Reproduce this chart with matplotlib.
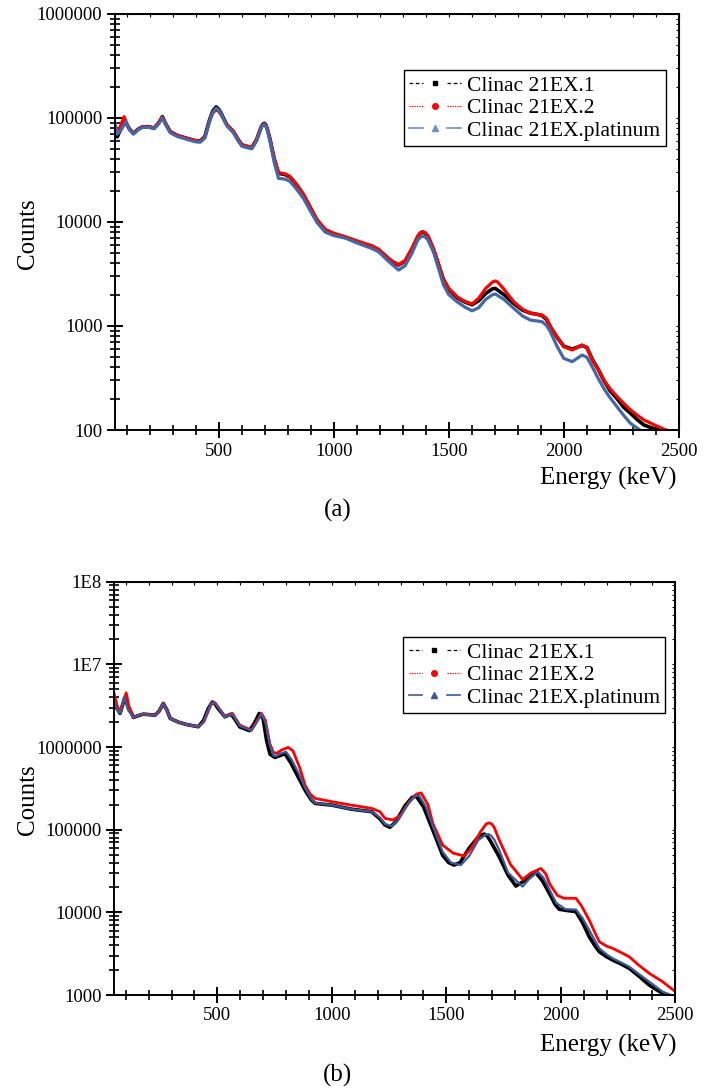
import matplotlib
matplotlib.use("Agg")
import matplotlib.pyplot as plt
from matplotlib.lines import Line2D
from matplotlib.legend_handler import HandlerTuple
from matplotlib.ticker import MultipleLocator, NullFormatter

plt.rcParams['font.family'] = ['Liberation Serif', 'DejaVu Serif']

# ---- panel (a) ----
energy_a1 = [50, 60, 75, 95, 110, 130, 150, 170, 200, 220, 240, 256, 270, 290, 320, 360,
             400, 420, 440, 460, 475, 489, 500, 510, 536, 564, 585, 601, 644, 665, 685,
             692, 699, 705, 712, 724, 742, 760, 790, 811, 840, 869, 900, 927, 963, 1000,
             1051, 1100, 1167, 1196, 1230, 1254, 1282, 1310, 1340, 1365, 1376, 1386,
             1398, 1410, 1434, 1455, 1477, 1500, 1536, 1570, 1601, 1630, 1660, 1690,
             1702, 1740, 1782, 1820, 1854, 1880, 1905, 1925, 1941, 1970, 1999, 2036,
             2079, 2100, 2123, 2150, 2173, 2200, 2231, 2260, 2289, 2320, 2347, 2380,
             2420, 2450]
counts_a1 = [75000, 66000, 78000, 92000, 80000, 71000, 78000, 82500, 82000, 80000, 90000,
             103000, 88000, 74000, 68000, 64000, 60500, 60000, 66000, 95000, 117000,
             128000, 122000, 112000, 86000, 74000, 62000, 55000, 51800, 62000, 82000,
             87000, 89000, 86000, 78000, 61400, 40000, 29400, 28500, 27000, 22500,
             18200, 13500, 10450, 8380, 7700, 7100, 6500, 5790, 5380, 4600, 4150, 3860,
             4200, 5500, 7200, 7800, 8000, 7800, 7200, 5400, 3900, 2800, 2250, 1870,
             1700, 1600, 1750, 2050, 2280, 2300, 2000, 1650, 1420, 1330, 1300, 1260,
             1150, 985, 780, 640, 600, 650, 620, 480, 380, 300, 240, 200, 165, 145, 125,
             112, 105, 100, 95]

energy_a2 = [50, 60, 75, 89, 100, 115, 130, 150, 170, 200, 220, 240, 256, 270, 290, 320,
             360, 400, 420, 440, 460, 475, 489, 500, 510, 536, 564, 585, 601, 644, 665,
             685, 692, 699, 705, 712, 724, 742, 760, 790, 811, 840, 869, 900, 927, 963,
             1000, 1051, 1100, 1167, 1196, 1230, 1254, 1282, 1310, 1340, 1365, 1376,
             1386, 1398, 1410, 1434, 1455, 1477, 1500, 1536, 1570, 1601, 1630, 1660,
             1690, 1702, 1712, 1740, 1782, 1820, 1854, 1880, 1905, 1925, 1941, 1970,
             1999, 2036, 2079, 2100, 2123, 2150, 2173, 2200, 2231, 2260, 2289, 2320,
             2347, 2400, 2434, 2470]
counts_a2 = [80000, 72000, 85000, 103000, 90000, 76000, 71000, 78000, 82500, 82000,
             80000, 90000, 102000, 88000, 74000, 68000, 64000, 60500, 60000, 65000,
             92000, 112000, 120000, 116000, 108000, 86000, 75000, 62000, 55500, 52000,
             62000, 82000, 86000, 88000, 85000, 78000, 62000, 41000, 29800, 29000,
             27300, 22800, 18400, 13700, 10600, 8500, 7800, 7220, 6600, 5900, 5450,
             4650, 4200, 3900, 4250, 5600, 7300, 7900, 8100, 7900, 7300, 5500, 4000,
             2770, 2300, 1910, 1720, 1630, 1850, 2300, 2650, 2710, 2650, 2250, 1710,
             1450, 1325, 1300, 1275, 1180, 985, 790, 632, 588, 656, 620, 471, 380, 303,
             250, 209, 180, 156, 138, 125, 110, 102, 96]

energy_a3 = [50, 60, 75, 96, 110, 130, 150, 170, 200, 220, 240, 256, 270, 290, 320, 360,
             400, 420, 440, 460, 475, 489, 500, 510, 536, 564, 585, 601, 644, 665, 685,
             692, 699, 705, 712, 724, 742, 760, 790, 811, 840, 869, 900, 927, 963, 1000,
             1051, 1100, 1167, 1196, 1230, 1254, 1282, 1310, 1340, 1365, 1376, 1386,
             1398, 1410, 1434, 1455, 1477, 1500, 1536, 1570, 1601, 1630, 1660, 1690,
             1702, 1740, 1782, 1820, 1854, 1880, 1905, 1925, 1941, 1970, 1999, 2036,
             2079, 2100, 2123, 2150, 2173, 2200, 2231, 2260, 2289, 2330, 2360]
counts_a3 = [88000, 70000, 76000, 92000, 79000, 70000, 77000, 81500, 81000, 79000, 88000,
             100000, 86000, 72000, 66500, 62500, 59000, 58500, 64000, 92000, 114000,
             125000, 120000, 110000, 84000, 72000, 60000, 53500, 50500, 60000, 80000,
             85000, 87000, 84000, 76000, 59000, 37000, 26300, 25800, 24500, 20500,
             16800, 12600, 9900, 8000, 7400, 7000, 6300, 5550, 5150, 4350, 3900, 3450,
             3800, 5000, 6700, 7100, 7330, 7150, 6700, 5100, 3600, 2480, 2000, 1710,
             1520, 1400, 1500, 1800, 2000, 2030, 1800, 1480, 1250, 1140, 1120, 1100,
             1010, 880, 640, 489, 454, 526, 500, 406, 310, 252, 205, 167, 138, 116, 100,
             92]

# ---- panel (b) ----
energy_b1 = [50, 60, 75, 95, 115, 134, 155, 177, 228, 245, 264, 280, 294, 330, 366, 417,
             440, 460, 478, 490, 500, 533, 560, 575, 598, 640, 660, 683, 700, 715, 730,
             751, 775, 795, 820, 850, 883, 910, 927, 1000, 1086, 1174, 1210, 1232, 1254,
             1280, 1320, 1350, 1368, 1400, 1441, 1484, 1510, 1534, 1560, 1600, 1640,
             1655, 1666, 1678, 1690, 1731, 1770, 1804, 1840, 1870, 1891, 1920, 1950,
             1975, 1993, 2030, 2066, 2095, 2124, 2150, 2168, 2200, 2226, 2260, 2299,
             2340, 2386, 2420, 2444, 2470, 2500]
counts_b1 = [3.7e6, 3.0e6, 2.55e6, 3.9e6, 2.9e6, 2.28e6, 2.4e6, 2.5e6, 2.43e6, 2.7e6,
             3.37e6, 2.8e6, 2.22e6, 2.0e6, 1.87e6, 1.76e6, 2.1e6, 2.9e6, 3.5e6, 3.35e6,
             3.0e6, 2.32e6, 2.5e6, 2.2e6, 1.75e6, 1.58e6, 1.9e6, 2.55e6, 2.2e6, 1.2e6,
             8.2e5, 7.48e5, 7.9e5, 8.3e5, 6.5e5, 4.5e5, 3.01e5, 2.3e5, 2.08e5, 1.98e5,
             1.77e5, 1.65e5, 1.35e5, 1.14e5, 1.07e5, 1.25e5, 1.95e5, 2.45e5, 2.55e5,
             1.9e5, 9.9e4, 4.9e4, 4.0e4, 3.73e4, 4.0e4, 6.0e4, 8.2e4, 8.7e4, 8.85e4,
             8.4e4, 7.5e4, 4.7e4, 2.8e4, 2.08e4, 2.4e4, 2.9e4, 3.01e4, 2.4e4, 1.7e4,
             1.25e4, 1.09e4, 1.05e4, 1.02e4, 7.5e3, 5.07e3, 3.9e3, 3.34e3, 2.9e3,
             2.65e3, 2.4e3, 2.1e3, 1.7e3, 1.32e3, 1.15e3, 1.05e3, 980, 940]

energy_b2 = [50, 62, 75, 90, 102, 115, 134, 155, 177, 228, 245, 264, 280, 294, 330, 366,
             417, 440, 460, 472, 482, 494, 505, 533, 566, 598, 649, 670, 693, 710, 729,
             745, 760, 780, 809, 830, 860, 883, 905, 927, 1000, 1086, 1174, 1210, 1232,
             1268, 1300, 1340, 1370, 1390, 1420, 1441, 1484, 1530, 1578, 1610, 1650,
             1675, 1688, 1700, 1710, 1731, 1780, 1833, 1870, 1913, 1935, 1950, 1985,
             2014, 2066, 2090, 2124, 2150, 2168, 2200, 2226, 2260, 2299, 2340, 2386,
             2444, 2500]
counts_b2 = [4.36e6, 3.2e6, 2.6e6, 3.6e6, 4.52e6, 3.0e6, 2.28e6, 2.42e6, 2.5e6, 2.43e6,
             2.7e6, 3.37e6, 2.8e6, 2.22e6, 2.0e6, 1.87e6, 1.76e6, 2.0e6, 2.7e6, 3.3e6,
             3.52e6, 3.3e6, 3.0e6, 2.32e6, 2.55e6, 1.84e6, 1.6e6, 2.0e6, 2.55e6, 2.1e6,
             1.1e6, 8.6e5, 8.4e5, 9.2e5, 9.89e5, 9.0e5, 5.6e5, 3.46e5, 2.7e5, 2.39e5,
             2.18e5, 1.98e5, 1.81e5, 1.65e5, 1.37e5, 1.31e5, 1.5e5, 2.2e5, 2.7e5, 2.79e5,
             2.0e5, 1.19e5, 6.5e4, 5.2e4, 4.8e4, 6.0e4, 9.5e4, 1.18e5, 1.21e5, 1.16e5,
             1.05e5, 7.5e4, 3.8e4, 2.5e4, 3.0e4, 3.4e4, 2.9e4, 2.24e4, 1.6e4, 1.48e4,
             1.48e4, 1.2e4, 8.07e3, 5.6e3, 4.41e3, 3.9e3, 3.67e3, 3.3e3, 2.9e3, 2.3e3,
             1.83e3, 1.45e3, 1.1e3]

energy_b3 = [50, 62, 75, 93, 110, 134, 155, 177, 228, 245, 264, 280, 294, 330, 366, 417,
             440, 460, 472, 484, 495, 505, 533, 566, 598, 649, 670, 693, 710, 729, 745,
             756, 775, 800, 825, 855, 883, 910, 927, 1000, 1086, 1174, 1210, 1232, 1260,
             1290, 1330, 1360, 1380, 1410, 1441, 1484, 1520, 1563, 1600, 1640, 1670,
             1685, 1697, 1710, 1731, 1770, 1833, 1860, 1900, 1925, 1950, 1980, 2020,
             2066, 2095, 2124, 2150, 2168, 2200, 2226, 2260, 2299, 2340, 2386, 2444,
             2480, 2500]
counts_b3 = [3.69e6, 2.8e6, 2.55e6, 4.05e6, 2.8e6, 2.28e6, 2.42e6, 2.5e6, 2.43e6, 2.7e6,
             3.37e6, 2.8e6, 2.22e6, 2.0e6, 1.87e6, 1.76e6, 2.0e6, 2.75e6, 3.25e6, 3.5e6,
             3.3e6, 3.0e6, 2.3e6, 2.5e6, 1.8e6, 1.58e6, 1.95e6, 2.5e6, 2.0e6, 1.1e6,
             7.9e5, 7.76e5, 8.3e5, 8.75e5, 7.0e5, 4.8e5, 3.2e5, 2.35e5, 2.1e5, 1.98e5,
             1.77e5, 1.65e5, 1.4e5, 1.18e5, 1.1e5, 1.3e5, 2.0e5, 2.5e5, 2.62e5, 1.9e5,
             1.1e5, 5.4e4, 4.0e4, 3.73e4, 4.8e4, 7.5e4, 8.6e4, 8.85e4, 8.4e4, 7.5e4,
             5.67e4, 3.0e4, 2.05e4, 2.5e4, 3.1e4, 2.6e4, 1.9e4, 1.3e4, 1.09e4, 1.08e4,
             8.5e3, 6.1e3, 4.5e3, 3.67e3, 3.1e3, 2.78e3, 2.5e3, 2.2e3, 1.8e3, 1.45e3,
             1.1e3, 1.0e3, 960]

labels = ['Clinac 21EX.1', 'Clinac 21EX.2', 'Clinac 21EX.platinum']
yticks_a = [100, 1000, 10000, 100000, 1000000]
yticklabels_a = ['100', '1000', '10000', '100000', '1000000']
yticks_b = [1e3, 1e4, 1e5, 1e6, 1e7, 1e8]
yticklabels_b = ['1000', '10000', '100000', '1000000', '1E7', '1E8']
xticks = [500, 1000, 1500, 2000, 2500]

W, H = 713, 1090
fig = plt.figure(figsize=(W / 100, H / 100), dpi=100)


def box(x0, y0, x1, y1):
    return [x0 / W, 1 - y1 / H, (x1 - x0) / W, (y1 - y0) / H]


def style_axes(ax, ylim, yticks, yticklabels):
    ax.set_yscale('log')
    ax.set_xlim(50, 2500)
    ax.set_ylim(*ylim)
    ax.set_xticks(xticks)
    ax.set_xticklabels([str(t) for t in xticks])
    ax.xaxis.set_minor_locator(MultipleLocator(100))
    ax.set_yticks(yticks)
    ax.set_yticklabels(yticklabels)
    ax.yaxis.set_minor_formatter(NullFormatter())
    for s in ax.spines.values():
        s.set_linewidth(1.4)
    ax.tick_params(which='major', direction='inout', length=12, width=1.4,
                   labelsize=13.5, pad=3)
    ax.tick_params(which='minor', direction='inout', length=6.5, width=1.2)
    top = ax.secondary_xaxis('top')
    top.xaxis.set_major_locator(MultipleLocator(500))
    top.xaxis.set_minor_locator(MultipleLocator(100))
    top.tick_params(which='both', direction='in', length=2.5, width=0.8,
                    labeltop=False)
    right = ax.secondary_yaxis('right')
    right.tick_params(which='both', direction='in', length=2.5, width=0.8,
                      labelright=False)
    right.yaxis.set_minor_formatter(NullFormatter())


def make_legend(ax, blue, bbox):
    h1 = (Line2D([], [], color='k', ls=(0, (3, 2)), lw=0.9),
          Line2D([], [], color='k', ls='none', marker='s', ms=3.5),
          Line2D([], [], color='k', ls=(0, (3, 2)), lw=0.9))
    h2 = (Line2D([], [], color='red', ls=(0, (1, 1)), lw=0.9),
          Line2D([], [], color='red', ls='none', marker='o', ms=4),
          Line2D([], [], color='red', ls=(0, (1, 1)), lw=0.9))
    h3 = (Line2D([], [], color=blue, ls='-', lw=1.2),
          Line2D([], [], color=blue, ls='none', marker='^', ms=4),
          Line2D([], [], color=blue, ls='-', lw=1.2))
    leg = ax.legend([h1, h2, h3], labels, handler_map={tuple: HandlerTuple(ndivide=None, pad=0.25)},
                    loc='upper left', bbox_to_anchor=bbox, numpoints=1,
                    fontsize=15.5, handlelength=2.4, handletextpad=0.3,
                    borderpad=0.25, labelspacing=0.12, borderaxespad=0,
                    fancybox=False, framealpha=1, edgecolor='black')
    leg.get_frame().set_linewidth(1.0)


# panel (a)
ax1 = fig.add_axes(box(115, 14, 679, 430))
blue_a = '#4467a6'
ax1.plot(energy_a1, counts_a1, color='black', lw=2.6)
ax1.plot(energy_a2, counts_a2, color='#ff0000', lw=2.3)
ax1.plot(energy_a3, counts_a3, color=blue_a, lw=2.3)
style_axes(ax1, (100, 1e6), yticks_a, yticklabels_a)
make_legend(ax1, '#6f8fc4', (0.512, 0.865))
fig.text(28 / W, 1 - 234 / H, 'Counts', rotation=90, ha='center', va='center', fontsize=18)
fig.text(677 / W, 1 - 478 / H, 'Energy (keV)', ha='right', va='center', fontsize=18)
fig.text(338 / W, 1 - 510 / H, '(a)', ha='center', va='center', fontsize=18)

# panel (b)
ax2 = fig.add_axes(box(114.3, 581.7, 675.3, 995))
blue_b = '#3a5a9c'
ax2.plot(energy_b1, counts_b1, color='black', lw=2.6)
ax2.plot(energy_b2, counts_b2, color='#ff0000', lw=2.0)
ax2.plot(energy_b3, counts_b3, color=blue_b, lw=1.6)
style_axes(ax2, (1e3, 1e8), yticks_b, yticklabels_b)
make_legend(ax2, blue_b, (0.515, 0.866))
fig.text(28 / W, 1 - 800 / H, 'Counts', rotation=90, ha='center', va='center', fontsize=18)
fig.text(677 / W, 1 - 1045 / H, 'Energy (keV)', ha='right', va='center', fontsize=18)
fig.text(337 / W, 1 - 1075 / H, '(b)', ha='center', va='center', fontsize=18)

fig.savefig('out.png', dpi=100)
